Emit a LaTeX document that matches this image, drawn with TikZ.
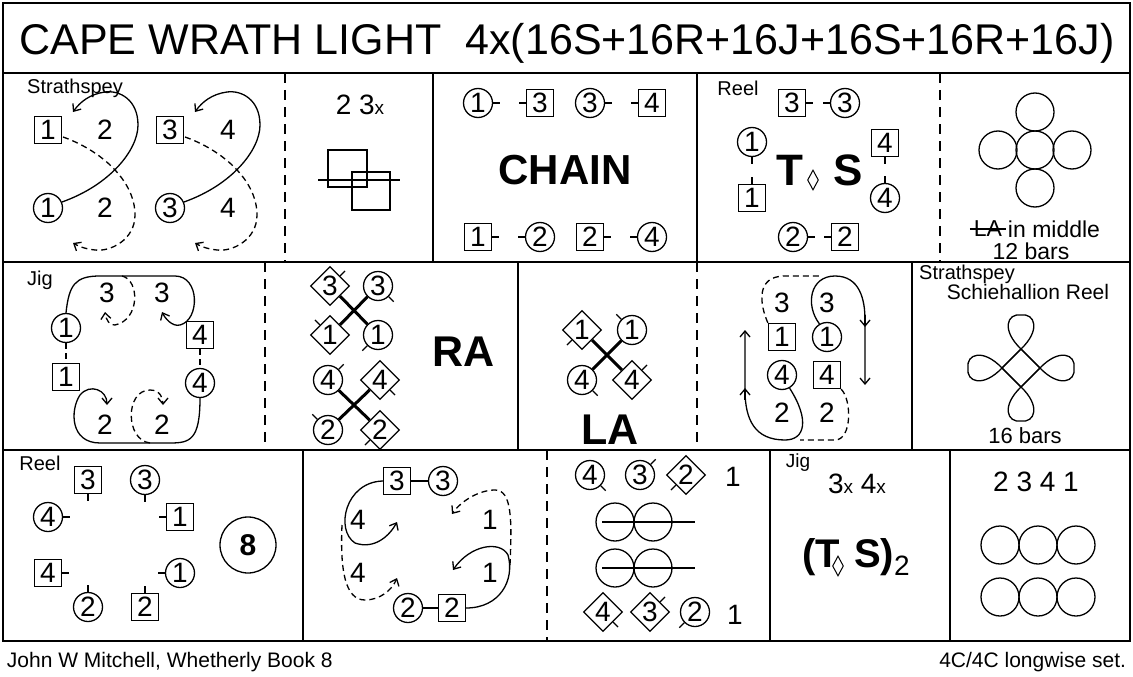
\documentclass[tikz,border=0pt]{standalone}
\usepackage{fontspec}
\setmainfont{Liberation Sans}
\usetikzlibrary{arrows.meta,shapes.geometric}
\newcommand{\fs}[1]{\fontsize{#1}{#1}\selectfont}

\begin{document}
\begin{tikzpicture}[x=1pt,y=-1pt,line width=1.3pt,
  circ/.style={circle,draw,minimum size=29pt,inner sep=0pt,font=\fs{28}},
  sq/.style={rectangle,draw,minimum size=27pt,inner sep=0pt,font=\fs{28}},
  dia/.style={diamond,draw,minimum size=39pt,inner sep=0pt,font=\fs{28}},
  smalldia/.style={diamond,draw,minimum width=11pt,minimum height=20pt,inner sep=0pt,line width=1pt},
  num/.style={font=\fs{28}},
  small/.style={font=\fs{20}},
  big/.style={font=\bfseries\fs{42}},
  divd/.style={dash pattern=on 10pt off 7pt,line width=1.5pt},
  dsh/.style={dash pattern=on 6pt off 4pt},
  arr/.style={-{Straight Barb[length=6pt,width=10pt]}},
  thk/.style={line width=3pt}]
\useasboundingbox (0,0) rectangle (1133,677);

% frame
\draw[line width=2pt] (3,3) rectangle (1130,641);
\draw[line width=2pt] (3,73) -- (1130,73) (3,262) -- (1130,262) (3,450) -- (1130,450);
\draw[divd] (285,73) -- (285,262) (940,73) -- (940,262) (265,262) -- (265,450) (697,262) -- (697,450) (547,450) -- (547,641);
\draw[line width=2pt] (433,73) -- (433,262) (697,73) -- (697,262) (518,262) -- (518,450) (912,262) -- (912,450)
  (303,450) -- (303,641) (770,450) -- (770,641) (950,450) -- (950,641);

\node[font=\fs{43}] (title) at (567,43) {CAPE WRATH LIGHT\hspace{24pt}4x(16S+16R+16J+16S+16R+16J)};

% row 1: strathspey
\node[small] (strA) at (75,88) {Strathspey};
\node[sq] (sb1) at (48,130) {1};
\node[num] (sn2a) at (105,130) {2};
\node[sq] (sb3) at (170,130) {3};
\node[num] (sn4a) at (228,130) {4};
\node[circ] (sc1) at (48,208) {1};
\node[num] (sn2b) at (105,208) {2};
\node[circ] (sc3) at (170,208) {3};
\node[num] (sn4b) at (228,208) {4};
\foreach \s in {0,122} {
  \begin{scope}[xshift=\s pt]
    \draw[arr] (62,202) .. controls (110,185) and (138,150) .. (138,125) .. controls (138,100) and (120,90) .. (105,92) .. controls (90,94) and (80,102) .. (73,112);
    \draw[arr,dsh] (63,137) .. controls (100,150) and (135,180) .. (135,215) .. controls (135,240) and (110,252) .. (95,250) .. controls (85,249) and (78,246) .. (73,243);
  \end{scope}
}
\node[num] (rep) at (360,105) {2 3{\fs{19}x}};
\draw (328,150) rectangle (367,187) (352,172) rectangle (390,210) (318,180) -- (400,180);

% chain
\node[circ] (hc1) at (478,103) {1};
\node[sq] (hb3) at (540,103) {3};
\node[circ] (hc3) at (590,103) {3};
\node[sq] (hb4) at (652,103) {4};
\node[sq] (hb1) at (478,237) {1};
\node[circ] (hc2) at (540,237) {2};
\node[sq] (hb2) at (590,237) {2};
\node[circ] (hc4) at (652,237) {4};
\foreach \n in {hc1,hc3,hb1,hb2} \draw (\n.east) -- ++(7,0);
\foreach \n in {hb3,hb4,hc2,hc4} \draw (\n.west) -- ++(-7,0);
\node[big] (chain) at (565,170) {CHAIN};

% reel T S
\node[small] (reelA) at (738,88) {Reel};
\node[sq] (tb3) at (792,103) {3};
\node[circ] (tc3) at (845,103) {3};
\node[circ] (tc1) at (752,142) {1};
\node[sq] (tb1) at (752,198) {1};
\node[sq] (tb4) at (885,143) {4};
\node[circ] (tc4) at (885,198) {4};
\node[circ] (tc2) at (793,237) {2};
\node[sq] (tb2) at (845,237) {2};
\draw (tb3.east) -- ++(7,0) (tc3.west) -- ++(-7,0) (tc2.east) -- ++(7,0) (tb2.west) -- ++(-7,0);
\draw (tc1.south) -- ++(0,7) (tb1.north) -- ++(0,-7) (tb4.south) -- ++(0,7) (tc4.north) -- ++(0,-7);
\node[font=\bfseries\fs{44}] (tT) at (790,170) {T};
\node[smalldia] (tD) at (813,180) {};
\node[font=\bfseries\fs{44}] (tS) at (848,170) {S};

% circles, LA in middle
\foreach \p in {(1035,150),(1035,112),(998,150),(1072,150),(1035,188)} \draw \p circle (19);
\node[font=\fs{23}] (la) at (988,229) {LA};
\draw (la.west) -- (la.east);
\node[font=\fs{23},anchor=west] (mid) at (1004,229) {in middle};
\node[font=\fs{23}] (bars12) at (1031,251) {12 bars};

% row 2: jig
\node[small] (jigA) at (40,280) {Jig};
\node[circ] (jc1) at (66,328) {1};
\node[sq] (jb1) at (66,377) {1};
\node[num] (jn3a) at (107,293) {3};
\node[num] (jn3b) at (162,293) {3};
\node[sq] (jb4) at (200,335) {4};
\node[circ] (jc4) at (200,383) {4};
\node[num] (jn2a) at (105,425) {2};
\node[num] (jn2b) at (162,425) {2};
\draw[dsh] (jc1) -- (jb1) (jb4) -- (jc4);
\draw[arr] (jc1.north) .. controls (69,285) and (75,276) .. (100,276) -- (175,276) .. controls (200,276) and (200,320) .. (180,325) .. controls (172,327) and (165,318) .. (162,312);
\draw[arr,dsh] (122,276) .. controls (140,280) and (140,320) .. (115,325) .. controls (110,326) and (106,320) .. (105,312);
\draw[arr] (jc4.south) .. controls (200,440) and (190,443) .. (170,443) -- (100,443) .. controls (70,443) and (70,410) .. (80,395) .. controls (90,383) and (107,390) .. (107,405);
\draw[arr,dsh] (150,443) .. controls (125,440) and (125,390) .. (150,390) .. controls (160,390) and (163,398) .. (163,405);

% RA
\node[dia] (rd3) at (330,286) {3};
\node[circ] (rc3) at (378,286) {3};
\node[dia] (rd1) at (330,335) {1};
\node[circ] (rc1) at (378,335) {1};
\node[circ] (rc4) at (328,380) {4};
\node[dia] (rd4) at (380,380) {4};
\node[circ] (rc2) at (328,430) {2};
\node[dia] (rd2) at (380,430) {2};
\draw[thk] (rd3) -- (rc1) (rc3) -- (rd1) (rc4) -- (rd2) (rd4) -- (rc2);
\foreach \n/\a in {rd3/45,rc3/-45,rd1/135,rc1/-135,rc4/45,rd4/-45,rc2/135,rd2/-135} \draw (\n.\a) -- ++(\a:7pt);
\node[font=\bfseries\fs{43}] (ra) at (464,352) {RA};

% LA
\node[dia] (ld1) at (582,330) {1};
\node[circ] (lc1) at (632,330) {1};
\node[circ] (lc4) at (582,380) {4};
\node[dia] (ld4) at (632,380) {4};
\draw[thk] (ld1) -- (ld4) (lc1) -- (lc4);
\foreach \n/\a in {ld1/-135,lc1/135,lc4/-45,ld4/45} \draw (\n.\a) -- ++(\a:7pt);
\node[font=\bfseries\fs{43}] (laB) at (610,430) {LA};

% mirror figure
\node[num] (mn3a) at (782,303) {3};
\node[num] (mn3b) at (827,303) {3};
\node[sq] (mb1) at (782,337) {1};
\node[circ] (mc1) at (827,337) {1};
\node[circ] (mc4) at (782,375) {4};
\node[sq] (mb4) at (827,375) {4};
\node[num] (mn2a) at (782,413) {2};
\node[num] (mn2b) at (827,413) {2};
\draw[arr] (mc4.-60) .. controls (810,420) and (805,440) .. (785,440) .. controls (755,440) and (745,420) .. (745,390) -- (745,330);
\draw[arr] (745,400) -- (745,388);
\draw[arr] (mc1.120) .. controls (805,305) and (810,276) .. (835,276) .. controls (860,276) and (865,300) .. (865,320) -- (865,385);
\draw[arr] (865,315) -- (865,327);
\draw[dsh] (mb1.north west) .. controls (760,305) and (755,276) .. (785,276) -- (820,276);
\draw[dsh] (mb4.south east) .. controls (852,400) and (852,440) .. (835,440) -- (800,440);

% schiehallion
\node[small] (strB) at (967,274) {Strathspey};
\node[font=\fs{21}] (sch) at (1028,292) {Schiehallion Reel};
\foreach \r in {0,90,180,270}
  \draw[shift={(1021,368)},rotate=\r] (-19,0) -- (0,-19) .. controls (20,-38) and (14,-55) .. (0,-53) .. controls (-14,-55) and (-20,-38) .. (0,-19) -- (19,0);
\node[font=\fs{22}] (bars16) at (1025,436) {16 bars};

% row 3: reel of eight
\node[small] (reelB) at (40,463) {Reel};
\node[sq] (eb3) at (88,480) {3};
\node[circ] (ec3) at (145,480) {3};
\node[circ] (ec4) at (48,517) {4};
\node[sq] (eb1) at (180,517) {1};
\node[sq] (eb4) at (48,573) {4};
\node[circ] (ec1) at (180,573) {1};
\node[circ] (ec2) at (88,607) {2};
\node[sq] (eb2) at (145,607) {2};
\draw (eb3.south) -- ++(0,7) (ec3.south) -- ++(0,7) (ec2.north) -- ++(0,-7) (eb2.north) -- ++(0,-7);
\draw (ec4.east) -- ++(7,0) (eb4.east) -- ++(7,0) (eb1.west) -- ++(-7,0) (ec1.west) -- ++(-7,0);
\node[circle,draw,minimum size=56pt,font=\bfseries\fs{30}] (eight) at (248,545) {8};

% half figures
\node[sq] (fb3) at (397,481) {3};
\node[circ] (fc3) at (443,481) {3};
\node[circ] (fc2) at (408,608) {2};
\node[sq] (fb2) at (452,608) {2};
\draw (fb3) -- (fc3) (fc2) -- (fb2);
\node[num] (fn4a) at (358,520) {4};
\node[num] (fn4b) at (358,573) {4};
\node[num] (fn1a) at (490,520) {1};
\node[num] (fn1b) at (490,573) {1};
\draw[arr] (fb3.west) .. controls (345,482) and (335,530) .. (355,543) .. controls (375,550) and (390,535) .. (397,522);
\draw[arr,dsh] (342,525) .. controls (340,570) and (345,600) .. (365,600) .. controls (380,600) and (392,590) .. (397,578);
\draw[arr,dsh] (510,565) .. controls (512,520) and (512,490) .. (495,490) .. controls (480,490) and (462,500) .. (452,514);
\draw[arr] (fb2.east) .. controls (500,608) and (515,580) .. (508,555) .. controls (500,540) and (470,545) .. (453,570);

% poussette-like
\node[circ] (pc4) at (590,475) {4};
\node[circ] (pc3) at (640,475) {3};
\node[dia] (pd2) at (686,475) {2};
\node[num] (pn1a) at (733,477) {1};
\node[dia] (pd4) at (603,612) {4};
\node[dia] (pd3) at (650,612) {3};
\node[circ] (pc2) at (695,612) {2};
\node[num] (pn1b) at (735,615) {1};
\foreach \n/\a in {pc4/-45,pc3/45,pd2/-135,pd4/-45,pd3/45,pc2/-135} \draw (\n.\a) -- ++(\a:7pt);
\foreach \y in {522,568} {
  \draw (615,\y) circle (19) (653,\y) circle (19);
  \draw (602,\y) -- (695,\y);
}

% jig T S
\node[font=\fs{19}] (jigB) at (798,463) {Jig};
\node[num] (rep34) at (857,484) {3{\fs{19}x} 4{\fs{19}x}};
\node[font=\bfseries\fs{40}] (ts) at (856,557) {(T\hspace*{14pt}S)\textmd{\fs{28}\raisebox{-8pt}{2}}};
\node[smalldia] (tsD) at (838,566) {};

% end formation
\node[num] (order) at (1036,482) {2 3 4 1};
\foreach \y in {545,597} \foreach \x in {1000,1038,1076} \draw (\x,\y) circle (19);

% footer
\node[font=\fs{21},anchor=west] (author) at (3,662) {John W Mitchell, Whetherly Book 8};
\node[font=\fs{21},anchor=east] (setinfo) at (1130,662) {4C/4C longwise set.};
\end{tikzpicture}
\end{document}
